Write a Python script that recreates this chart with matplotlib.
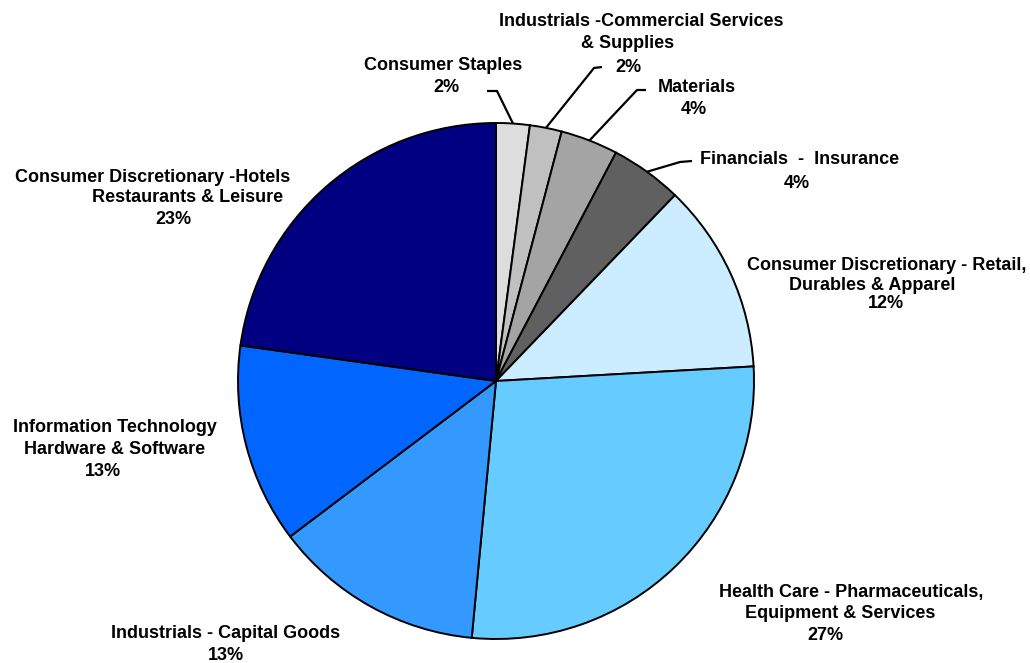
import matplotlib
matplotlib.use("Agg")
import matplotlib.pyplot as plt
import numpy as np

# sector weights, clockwise from 12 o'clock
sectors = [
    "Consumer Staples",
    "Industrials - Commercial Services & Supplies",
    "Materials",
    "Financials - Insurance",
    "Consumer Discretionary - Retail, Durables & Apparel",
    "Health Care - Pharmaceuticals, Equipment & Services",
    "Industrials - Capital Goods",
    "Information Technology Hardware & Software",
    "Consumer Discretionary - Hotels Restaurants & Leisure",
]
weights = [2.1, 2.0, 3.6, 4.5, 11.9, 27.4, 13.2, 12.5, 22.8]
pct_labels = ["2%", "2%", "4%", "4%", "12%", "27%", "13%", "13%", "23%"]
colors = ["#DDDDDD", "#C0C0C0", "#A4A4A4", "#606060", "#CCECFF",
          "#66CCFF", "#3399FF", "#0066FF", "#000080"]

# label text lines per slice (last line is the percentage)
label_lines = [
    ["Consumer Staples"],
    ["Industrials -Commercial Services", "& Supplies"],
    ["Materials"],
    ["Financials  -  Insurance"],
    ["Consumer Discretionary - Retail,", "Durables & Apparel"],
    ["Health Care - Pharmaceuticals,", "Equipment & Services"],
    ["Industrials - Capital Goods"],
    ["Information Technology", "Hardware & Software"],
    ["Consumer Discretionary -Hotels", "Restaurants & Leisure"],
]

W, H = 1030, 663
fig = plt.figure(figsize=(W / 100, H / 100), dpi=100)
ax = fig.add_axes([0, 0, 1, 1])


def py(y):
    # pixel row (from top) -> data y
    return H - y


cx, cy, r = 496, 381, 258
wedges, _ = ax.pie(weights, colors=colors, startangle=90, counterclock=False,
                   center=(cx, py(cy)), radius=r, frame=True,
                   wedgeprops=dict(edgecolor="black", linewidth=1.4))
ax.set_xlim(0, W)
ax.set_ylim(0, H)
ax.axis("off")

# layout: x centre of each text line, and row of first line (px from top)
label_x = [
    [443, 446],
    [641, 628, 628],
    [697, 694],
    [800, 797],
    [887, 872, 886],
    [851, 840, 825],
    [226, 226],
    [115, 115, 103],
    [153, 188, 173],
]
label_y0 = [65, 21, 88, 160, 266, 592, 634, 428, 177]
line_step = [23, 23, 22, 24, 19, 22, 22, 22, 21]

font = dict(family=["Liberation Sans", "DejaVu Sans"], fontsize=13,
            fontweight="bold", color="black", ha="center", va="center")

for i, lines in enumerate(label_lines):
    texts = lines + [pct_labels[i]]
    for j, t in enumerate(texts):
        ax.text(label_x[i][j], py(label_y0[i] + j * line_step[i]), t, **font)

# leader lines for the small slices: elbow and end points (px)
leaders = {
    0: [(497, 91), (487, 91)],
    1: [(594, 68), (602, 67)],
    2: [(637, 90), (646, 90)],
    3: [(680, 162), (692, 161)],
}
for i, pts in leaders.items():
    w = wedges[i]
    ang = np.deg2rad((w.theta1 + w.theta2) / 2)
    x0 = cx + r * np.cos(ang)
    y0 = py(cy) + r * np.sin(ang)
    xs = [x0] + [p[0] for p in pts]
    ys = [y0] + [py(p[1]) for p in pts]
    ax.plot(xs, ys, color="black", linewidth=1.6, solid_capstyle="butt")

fig.savefig("out.png", dpi=100)
